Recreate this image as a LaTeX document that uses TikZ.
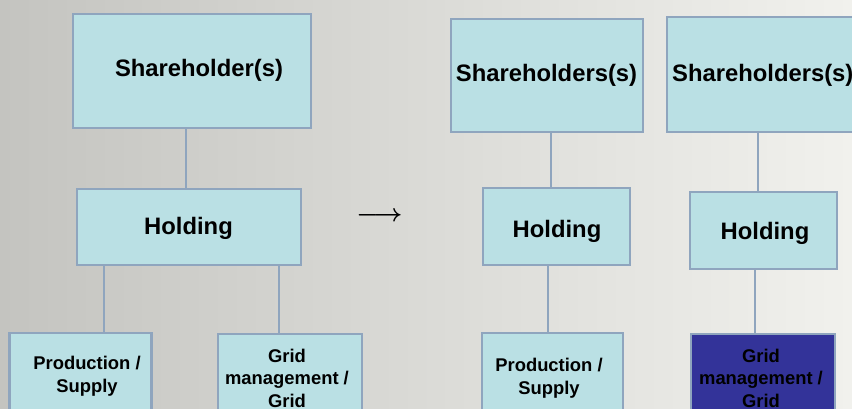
\documentclass[tikz,border=0pt]{standalone}
\usepackage{fontspec}
\usepackage{bm}
\setmainfont{Liberation Sans}
\definecolor{bgleft}{RGB}{196,196,192}
\definecolor{bgright}{RGB}{241,241,237}
\definecolor{boxfill}{RGB}{186,224,228}
\definecolor{boxline}{RGB}{143,165,190}
\definecolor{darkfill}{RGB}{51,51,153}
\tikzset{
  box/.style={draw=boxline, fill=boxfill, line width=2.2pt, inner sep=0pt, rectangle},
  darkbox/.style={box, fill=darkfill},
  conn/.style={draw=boxline, line width=2pt},
  big/.style={font=\bfseries\fontsize{23.8}{28}\selectfont, inner sep=0pt, text=black},
  small/.style={font=\bfseries\fontsize{18.4}{22.5}\selectfont, inner sep=0pt, align=center, text=black},
}
\begin{document}
\begin{tikzpicture}[x=1pt,y=-1pt]
\useasboundingbox (0,0) rectangle (852,409);
\clip (0,0) rectangle (852,409);
\shade[left color=bgleft, right color=bgright] (0,0) rectangle (852,409);

% left structure
\node[box, minimum width=238, minimum height=114] (shA) at (192,71) {};
\node[box, minimum width=224, minimum height=76] (holdA) at (189,227) {};
\node[box, minimum width=142, minimum height=110] (prodA) at (80.5,388) {};
\node[box, minimum width=144, minimum height=110] (gridA) at (290,389) {};
\node[big, anchor=base] (shAt) at (199,77) {Shareholder(s)};
\node[big, anchor=base] (holdAt) at (188.5,234) {Holding};
\node[small] (prodAt) at (87,376) {Production /\\Supply};
\node[small] (gridAt) at (287,378) {Grid\\management /\\Grid};
\draw[conn] ([xshift=-6pt]shA.south) -- ([xshift=-6pt]shA.south |- holdA.north);
\draw[conn] ([xshift=23pt]prodA.north) -- ([xshift=23pt]prodA.north |- holdA.south);
\draw[conn] ([xshift=-11pt]gridA.north) -- ([xshift=-11pt]gridA.north |- holdA.south);

% arrow
\node[inner sep=0pt, font=\fontsize{29}{30}\selectfont] (arr) at (379.5,217) {$\bm{\longrightarrow}$};

% right structure 1
\node[box, minimum width=192, minimum height=113] (shB) at (547,75.5) {};
\node[box, minimum width=147, minimum height=77] (holdB) at (556.5,226.5) {};
\node[box, minimum width=141, minimum height=110] (prodB) at (552.5,388) {};
\node[big, anchor=base] (shBt) at (546.5,82) {Shareholders(s)};
\node[big, anchor=base] (holdBt) at (557,237) {Holding};
\node[small] (prodBt) at (549,378) {Production /\\Supply};
\draw[conn] ([xshift=4pt]shB.south) -- ([xshift=4pt]shB.south |- holdB.north);
\draw[conn] ([xshift=-4.5pt]prodB.north) -- ([xshift=-4.5pt]prodB.north |- holdB.south);

% right structure 2
\node[box, minimum width=240, minimum height=115] (shC) at (787,74.5) {};
\node[box, minimum width=147, minimum height=77] (holdC) at (763.5,230.5) {};
\node[darkbox, minimum width=144, minimum height=110] (gridC) at (763,389) {};
\node[big, anchor=base west] (shCt) at (672,82) {Shareholders(s)};
\node[big, anchor=base] (holdCt) at (765,240) {Holding};
\node[small] (gridCt) at (761,378) {Grid\\management /\\Grid};
\draw[conn] ([xshift=-29pt]shC.south) -- ([xshift=-29pt]shC.south |- holdC.north);
\draw[conn] ([xshift=-8pt]gridC.north) -- ([xshift=-8pt]gridC.north |- holdC.south);
\end{tikzpicture}
\end{document}
